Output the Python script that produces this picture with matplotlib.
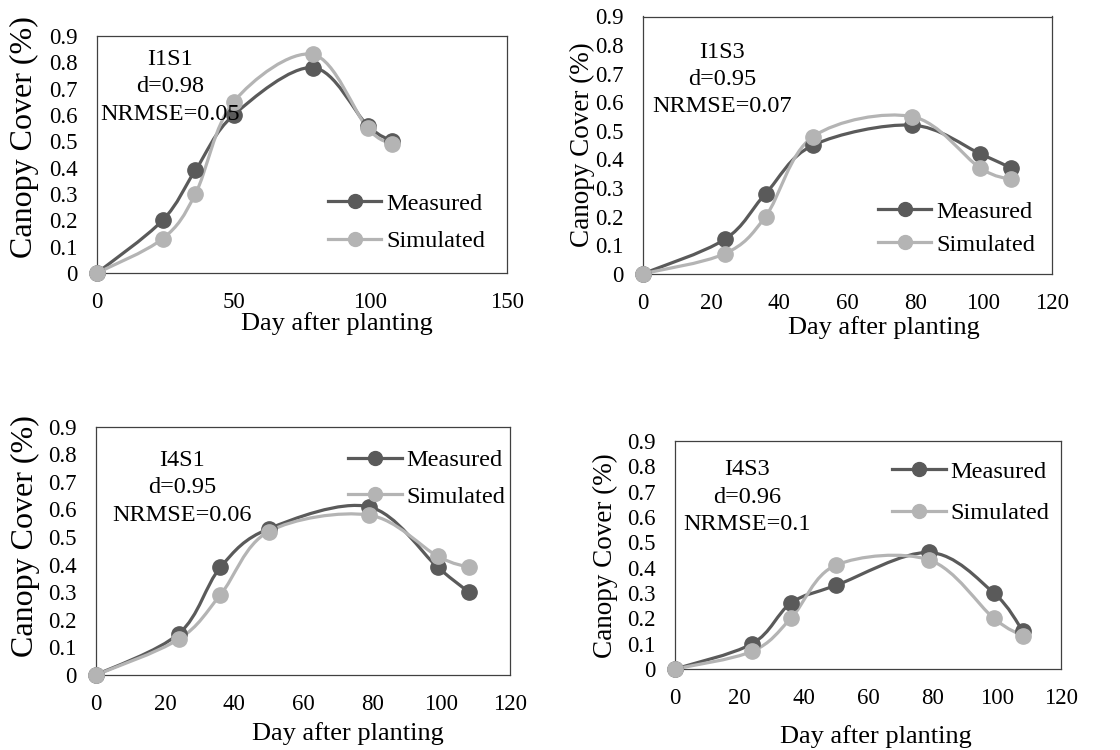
import matplotlib
matplotlib.use('Agg')
import matplotlib.pyplot as plt
import numpy as np
from matplotlib.path import Path
from matplotlib.patches import PathPatch
from matplotlib.lines import Line2D

plt.rcParams['font.family'] = ['Liberation Serif', 'DejaVu Serif']

# data
days = [0, 24, 36, 50, 79, 99, 108]

i1s1_meas = [0, 0.20, 0.39, 0.60, 0.78, 0.56, 0.50]
i1s1_sim = [0, 0.13, 0.30, 0.65, 0.83, 0.55, 0.49]
i1s3_meas = [0, 0.12, 0.28, 0.45, 0.52, 0.42, 0.37]
i1s3_sim = [0, 0.07, 0.20, 0.48, 0.55, 0.37, 0.33]
i4s1_meas = [0, 0.15, 0.39, 0.53, 0.61, 0.39, 0.30]
i4s1_sim = [0, 0.13, 0.29, 0.52, 0.58, 0.43, 0.39]
i4s3_meas = [0, 0.10, 0.26, 0.33, 0.46, 0.30, 0.15]
i4s3_sim = [0, 0.07, 0.20, 0.41, 0.43, 0.20, 0.13]

names = ['I1S1', 'I1S3', 'I4S1', 'I4S3']
d_vals = ['0.98', '0.95', '0.95', '0.96']
nrmse_vals = ['0.05', '0.07', '0.06', '0.1']
x_max = [150, 120, 120, 120]
x_step = [50, 20, 20, 20]

MEAS_COL = '#5a5a5a'
SIM_COL = '#b4b4b4'


def smooth_path(x, y):
    # excel-like smoothed line (bezier through the points)
    pts = np.column_stack([x, y]).astype(float)
    n = len(pts)
    verts = [pts[0]]
    codes = [Path.MOVETO]
    for i in range(n - 1):
        p0 = pts[i - 1] if i > 0 else pts[i]
        p1 = pts[i]
        p2 = pts[i + 1]
        p3 = pts[i + 2] if i + 2 < n else pts[i + 1]
        verts += [p1 + (p2 - p0) / 6, p2 - (p3 - p1) / 6, p2]
        codes += [Path.CURVE4] * 3
    return Path(verts, codes)


def draw_series(ax, x, y, color):
    ax.add_patch(PathPatch(smooth_path(x, y), fill=False, edgecolor=color,
                           lw=2.3, capstyle='round', clip_on=False))
    ax.plot(x, y, 'o', color=color, markersize=11, clip_on=False, zorder=3)


fig = plt.figure(figsize=(11.2, 7.5), dpi=100)

# axes rectangles (left, bottom, width, height)
rects = [[0.0866, 0.636, 0.366, 0.316],
         [0.574, 0.635, 0.365, 0.343],
         [0.0857, 0.100, 0.370, 0.331],
         [0.6027, 0.108, 0.345, 0.304]]
series = [(i1s1_meas, i1s1_sim), (i1s3_meas, i1s3_sim),
          (i4s1_meas, i4s1_sim), (i4s3_meas, i4s3_sim)]
note_pos = [(0.178, 0.785), (0.193, 0.755), (0.208, 0.754), (0.187, 0.754)]
leg_pos = [(0.563, 0.213), (0.575, 0.177), (0.609, 0.792), (0.562, 0.774)]
leg_space = [0.65, 0.45, 0.6, 0.8]
ylab_pos = [(-0.176, 0.575), (-0.149, 0.502), (-0.171, 0.56), (-0.181, 0.496)]
ylab_size = [23, 19.5, 23, 19.5]
xlab_pos = [(0.585, -0.215), (0.59, -0.21), (0.607, -0.234), (0.52, -0.295)]

for k in range(4):
    ax = fig.add_axes(rects[k])
    meas, sim = series[k]
    draw_series(ax, days, meas, MEAS_COL)
    draw_series(ax, days, sim, SIM_COL)

    ax.set_xlim(0, x_max[k])
    ax.set_ylim(0, 0.9)
    ax.set_xticks(np.arange(0, x_max[k] + 1, x_step[k]))
    ax.set_yticks(np.arange(0, 0.91, 0.1))
    ax.set_yticklabels(['0'] + ['%.1f' % v for v in np.arange(0.1, 0.91, 0.1)])
    ax.tick_params(length=0, labelsize=16.5, pad=14)
    for s in ax.spines.values():
        s.set_color('#404040')
        s.set_linewidth(0.9)

    ax.set_ylabel('Canopy Cover (%)', fontsize=ylab_size[k], ha='center', va='center')
    ax.yaxis.set_label_coords(*ylab_pos[k])
    ax.set_xlabel('Day after planting', fontsize=19, ha='center', va='center')
    ax.xaxis.set_label_coords(*xlab_pos[k])

    ax.text(note_pos[k][0], note_pos[k][1],
            '%s\nd=%s\nNRMSE=%s' % (names[k], d_vals[k], nrmse_vals[k]),
            transform=ax.transAxes, ha='center', va='center', fontsize=17.5,
            linespacing=1.4)

    handles = [Line2D([], [], color=MEAS_COL, lw=2.3, marker='o', markersize=10),
               Line2D([], [], color=SIM_COL, lw=2.3, marker='o', markersize=10)]
    ax.legend(handles, ['Measured', 'Simulated'], loc='center left',
              bbox_to_anchor=leg_pos[k], frameon=False, fontsize=17.5,
              handlelength=2.2, handletextpad=0.2, borderpad=0,
              borderaxespad=0, labelspacing=leg_space[k])

plt.savefig('out.png', dpi=100)
